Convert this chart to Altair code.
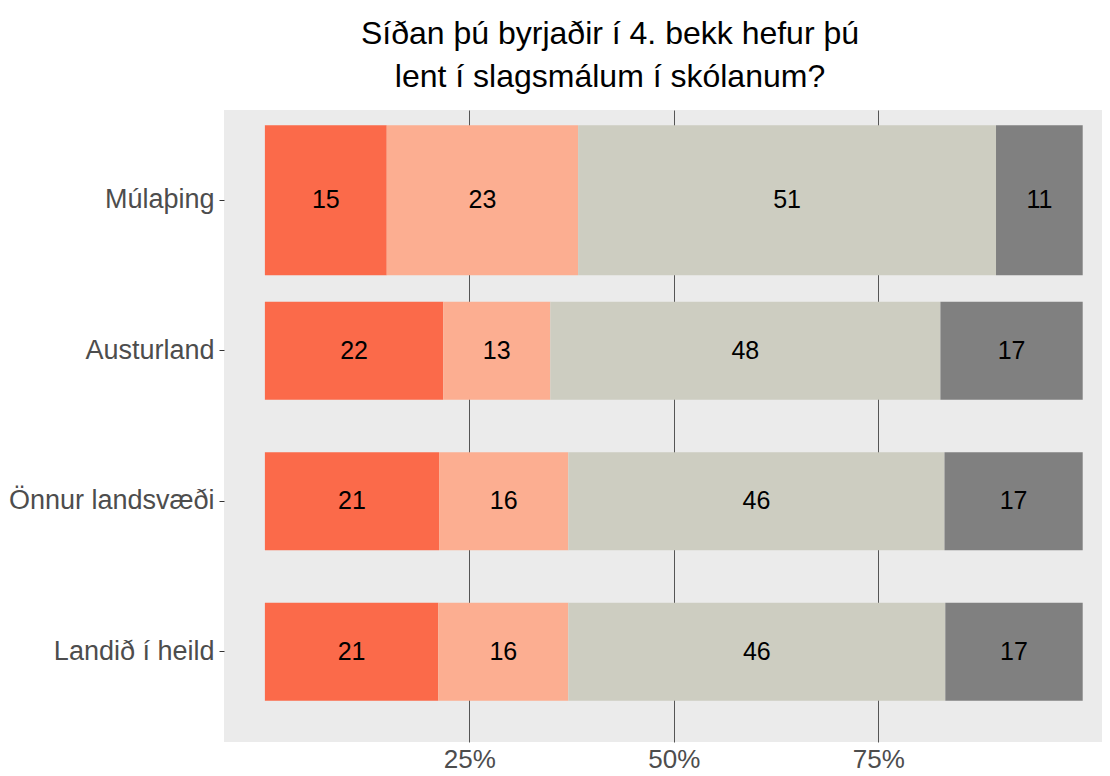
import altair as alt
import pandas as pd

categories = ["Múlaþing", "Austurland", "Önnur landsvæði", "Landið í heild"]
answers = ["Svar 1", "Svar 2", "Svar 3", "Svar 4"]
answer_1 = [14.9, 21.8, 21.3, 21.2]
answer_2 = [23.4, 13.1, 15.8, 15.9]
answer_3 = [51.1, 47.7, 46.0, 46.1]
answer_4 = [10.6, 17.4, 16.9, 16.8]
colors = ["#FB6A4A", "#FCAE91", "#CDCDC1", "#808080"]
x_ticks = [25, 50, 75]
title_lines = ["Síðan þú byrjaðir í 4. bekk hefur þú", "lent í slagsmálum í skólanum?"]

rows = []
for si, (name, vals) in enumerate(zip(answers, [answer_1, answer_2, answer_3, answer_4])):
    for c, v in zip(categories, vals):
        rows.append({"cat": c, "answer": name, "idx": si, "value": v})
df = pd.DataFrame(rows)

FONT = "Liberation Sans"

x_scale = alt.Scale(domain=[-5, 102.36], nice=False, zero=False)
y_scale = alt.Scale(paddingInner=0, paddingOuter=0.1)

base = alt.Chart(df)

bars = base.mark_bar().encode(
    y=alt.Y("cat:N", sort=categories, scale=y_scale, title=None,
            axis=alt.Axis(labelFontSize=27, labelColor="#4d4d4d", labelFont=FONT,
                          tickColor="#333333", tickSize=5, tickWidth=1,
                          domain=False, grid=False, labelPadding=5, labelLimit=400)),
    x=alt.X("value:Q", stack="zero", scale=x_scale, title=None,
            axis=alt.Axis(values=x_ticks, labelExpr="datum.value + '%'",
                          labelFontSize=26, labelColor="#4d4d4d", labelFont=FONT,
                          ticks=False, domain=False, grid=True,
                          gridColor="#555555", gridWidth=1, labelPadding=4)),
    color=alt.Color("answer:N", scale=alt.Scale(domain=answers, range=colors), legend=None),
    order=alt.Order("idx:Q", sort="ascending"),
    size=alt.condition(alt.datum.cat == categories[0], alt.value(150), alt.value(98)),
)

labels = base.transform_stack(
    stack="value", groupby=["cat"], sort=[alt.SortField("idx", order="ascending")],
    as_=["x0", "x1"]
).transform_calculate(
    mid="(datum.x0 + datum.x1) / 2"
).mark_text(fontSize=25, font=FONT, color="black", align="center", baseline="middle").encode(
    y=alt.Y("cat:N", sort=categories, scale=y_scale),
    x=alt.X("mid:Q", scale=x_scale),
    text=alt.Text("value:Q", format=".0f"),
)

chart = alt.layer(bars, labels).properties(
    width=878,
    height=632,
    autosize=alt.AutoSizeParams(type="none"),
    padding={"left": 216, "top": 102, "right": 0, "bottom": 26},
    title=alt.Title(title_lines, fontSize=32, font=FONT, fontWeight="normal",
                    color="black", anchor="middle", dx=-53, lineHeight=43, offset=16),
).configure(
    background="white"
).configure_view(
    fill="#EBEBEB", stroke=None
)

chart.save("out.html", embed_options={"renderer": "svg", "actions": False})
